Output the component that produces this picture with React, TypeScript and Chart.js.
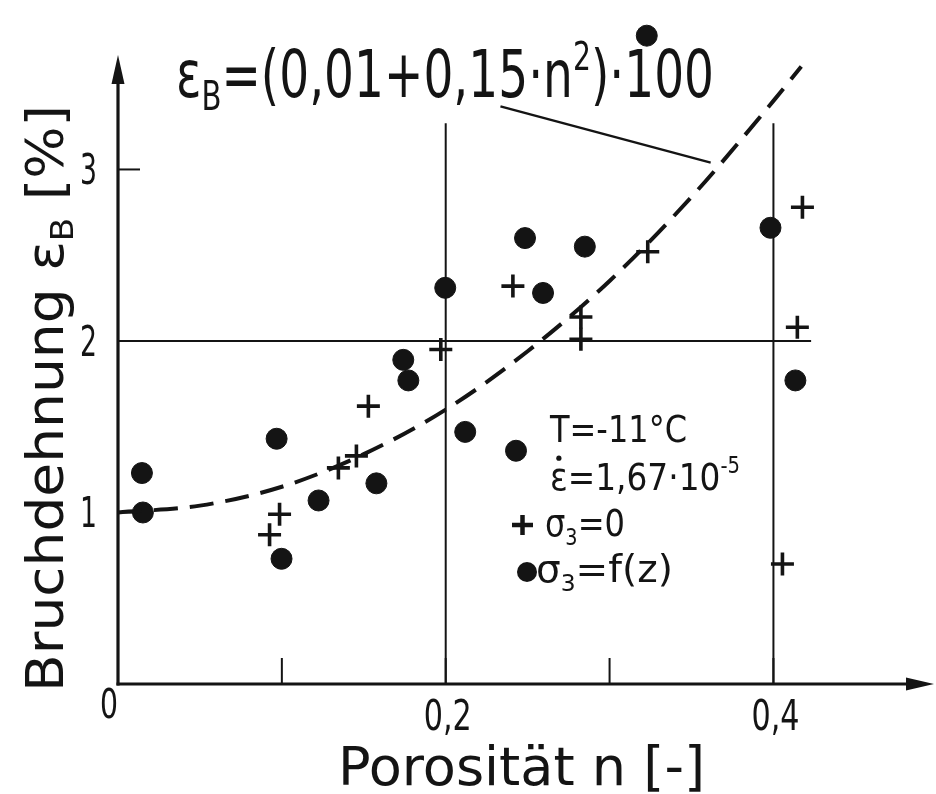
import React, { useEffect, useRef } from "react";
import { Chart, registerables } from "chart.js";

Chart.register(...registerables);

// ---------- data ----------
const crossN = [0.0925, 0.0986, 0.1345, 0.1455, 0.1528, 0.197, 0.241, 0.2825, 0.2825, 0.3233, 0.4055, 0.4146, 0.4177];
const crossE = [0.87, 0.99, 1.26, 1.33, 1.62, 1.95, 2.32, 2.14, 2.01, 2.52, 0.7, 2.08, 2.78];

const dotN = [0.0146, 0.0152, 0.0968, 0.0998, 0.1224, 0.1577, 0.1741, 0.1772, 0.1997, 0.2119, 0.2429, 0.2484, 0.2594, 0.2849, 0.3227, 0.3982, 0.4134];
const dotE = [1.23, 1.0, 1.43, 0.73, 1.07, 1.17, 1.89, 1.77, 2.31, 1.47, 1.36, 2.6, 2.28, 2.55, 3.78, 2.66, 1.77];

const curveN = [0, 0.05, 0.1, 0.15, 0.2, 0.25, 0.3, 0.35, 0.4, 0.417];
const curveE = [1.0, 1.04, 1.15, 1.34, 1.6, 1.94, 2.35, 2.84, 3.4, 3.6];

const xTickValues = [0.1, 0.2, 0.3, 0.4];
const xTickLabels = ["", "0,2", "", "0,4"];
const yTickValues = [1, 2, 3];
const yTickLabels = ["1", "2", "3"];
const originLabel = "0";

const fullGridX = [0.2, 0.4];
const fullGridY = [2];

// ---------- layout ----------
const W = 936;
const H = 794;
const ORIGIN_X = 118;
const ORIGIN_Y = 684;
const PX_PER_N = 1645;
const PX_PER_E = 174;
const X_MAX = 0.49;
const Y_MAX = 3.9;

const INK = "#141414";
const FONT = '"DejaVu Sans", "Liberation Sans", sans-serif';

type Run = { t: string; s?: number; dy?: number; dot?: boolean };

function drawRuns(
  ctx: CanvasRenderingContext2D,
  runs: Run[],
  x: number,
  y: number,
  size: number,
  targetW?: number,
  align: "left" | "center" | "right" = "left"
) {
  ctx.save();
  let total = 0;
  const widths = runs.map((r) => {
    ctx.font = `${size * (r.s ?? 1)}px ${FONT}`;
    const w = ctx.measureText(r.t).width;
    total += w;
    return w;
  });
  const sx = targetW ? targetW / total : 1;
  ctx.translate(x, y);
  ctx.scale(sx, 1);
  let cx = align === "center" ? -total / 2 : align === "right" ? -total : 0;
  ctx.textAlign = "left";
  ctx.textBaseline = "alphabetic";
  ctx.fillStyle = INK;
  runs.forEach((r, i) => {
    const fs = size * (r.s ?? 1);
    ctx.font = `${fs}px ${FONT}`;
    ctx.fillText(r.t, cx, (r.dy ?? 0) * size);
    if (r.dot) {
      ctx.beginPath();
      ctx.ellipse(cx + widths[i] / 2, -0.86 * size, 2.6 / sx, 2.6, 0, 0, Math.PI * 2);
      ctx.fill();
    }
    cx += widths[i];
  });
  ctx.restore();
}

const decorPlugin = {
  id: "decor",
  beforeDatasetsDraw(chart: any) {
    const ctx: CanvasRenderingContext2D = chart.ctx;
    const xs = chart.scales.x;
    const ys = chart.scales.y;
    const x0 = xs.getPixelForValue(0);
    const y0 = ys.getPixelForValue(0);
    ctx.save();
    ctx.strokeStyle = INK;
    ctx.fillStyle = INK;
    ctx.lineCap = "butt";

    // full grid lines
    ctx.lineWidth = 2;
    fullGridX.forEach((v) => {
      const px = xs.getPixelForValue(v);
      ctx.beginPath();
      ctx.moveTo(px, y0);
      ctx.lineTo(px, ys.getPixelForValue(3.27));
      ctx.stroke();
    });
    fullGridY.forEach((v) => {
      const py = ys.getPixelForValue(v);
      ctx.beginPath();
      ctx.moveTo(x0, py);
      ctx.lineTo(xs.getPixelForValue(0.423), py);
      ctx.stroke();
    });

    // short ticks
    xTickValues.forEach((v) => {
      const px = xs.getPixelForValue(v);
      ctx.beginPath();
      ctx.moveTo(px, y0);
      ctx.lineTo(px, y0 - 26);
      ctx.stroke();
    });
    yTickValues.forEach((v) => {
      const py = ys.getPixelForValue(v);
      ctx.beginPath();
      ctx.moveTo(x0, py);
      ctx.lineTo(x0 + 22, py);
      ctx.stroke();
    });

    // axes
    ctx.lineWidth = 3.2;
    ctx.beginPath();
    ctx.moveTo(x0 - 1.5, y0);
    ctx.lineTo(912, y0);
    ctx.stroke();
    ctx.beginPath();
    ctx.moveTo(x0, y0 + 1.5);
    ctx.lineTo(x0, 78);
    ctx.stroke();

    // arrow heads
    ctx.beginPath();
    ctx.moveTo(934, y0);
    ctx.lineTo(906, y0 - 6.5);
    ctx.lineTo(906, y0 + 6.5);
    ctx.closePath();
    ctx.fill();
    ctx.beginPath();
    ctx.moveTo(x0, 55);
    ctx.lineTo(x0 - 6.5, 84);
    ctx.lineTo(x0 + 6.5, 84);
    ctx.closePath();
    ctx.fill();

    // leader line from formula to curve
    ctx.lineWidth = 2.4;
    ctx.beginPath();
    ctx.moveTo(xs.getPixelForValue(0.2334), ys.getPixelForValue(3.368));
    ctx.lineTo(xs.getPixelForValue(0.3617), ys.getPixelForValue(3.04));
    ctx.stroke();

    ctx.restore();
  },
  afterDraw(chart: any) {
    const ctx: CanvasRenderingContext2D = chart.ctx;
    const xs = chart.scales.x;
    const ys = chart.scales.y;
    ctx.save();

    // tick labels
    xTickValues.forEach((v, i) => {
      const lab = xTickLabels[i];
      if (!lab) return;
      drawRuns(ctx, [{ t: lab }], xs.getPixelForValue(v) + 2, 730, 42, 48, "center");
    });
    yTickValues.forEach((v, i) => {
      drawRuns(ctx, [{ t: yTickLabels[i] }], 97, ys.getPixelForValue(v) + 15, 42, 17, "right");
    });
    drawRuns(ctx, [{ t: originLabel }], 100, 718, 40, 18);

    // axis titles
    drawRuns(ctx, [{ t: "Porosität n [-]" }], 338, 785, 53, 367);
    ctx.save();
    ctx.translate(63, 692);
    ctx.rotate(-Math.PI / 2);
    drawRuns(
      ctx,
      [{ t: "Bruchdehnung ε" }, { t: "B", s: 0.62, dy: 0.2 }, { t: " [%]" }],
      0,
      0,
      52,
      587
    );
    ctx.restore();

    // formula
    drawRuns(
      ctx,
      [
        { t: "ε" },
        { t: "B", s: 0.62, dy: 0.2 },
        { t: "=(0,01+0,15·n" },
        { t: "2", s: 0.6, dy: -0.42 },
        { t: ")·100" },
      ],
      176,
      97,
      65,
      538
    );

    // legend / conditions
    drawRuns(ctx, [{ t: "T=-11°C" }], 550, 442, 37, 137);
    drawRuns(ctx, [{ t: "ε", dot: true }, { t: "=1,67·10" }, { t: "-5", s: 0.6, dy: -0.45 }], 550, 490, 37, 190);

    ctx.strokeStyle = INK;
    ctx.fillStyle = INK;
    ctx.lineWidth = 4.5;
    ctx.beginPath();
    ctx.moveTo(512, 525);
    ctx.lineTo(533, 525);
    ctx.moveTo(522.5, 515);
    ctx.lineTo(522.5, 535);
    ctx.stroke();
    drawRuns(ctx, [{ t: "σ" }, { t: "3", s: 0.6, dy: 0.25 }, { t: "=0" }], 545, 536, 37, 80);

    ctx.beginPath();
    ctx.arc(527, 572, 10, 0, Math.PI * 2);
    ctx.fill();
    drawRuns(ctx, [{ t: "σ" }, { t: "3", s: 0.6, dy: 0.25 }, { t: "=f(z)" }], 536, 582, 37, 137);

    ctx.restore();
  },
};

export default function App() {
  const ref = useRef<HTMLCanvasElement | null>(null);

  useEffect(() => {
    document.body.style.margin = "0";
    document.body.style.background = "#ffffff";
    const canvas = ref.current;
    if (!canvas) return;

    const right = ORIGIN_X + X_MAX * PX_PER_N;
    const top = ORIGIN_Y - Y_MAX * PX_PER_E;

    const chart = new Chart(canvas, {
      type: "scatter",
      data: {
        datasets: [
          {
            type: "line",
            label: "curve",
            data: curveN.map((n, i) => ({ x: n, y: curveE[i] })),
            borderColor: INK,
            borderWidth: 4,
            borderDash: [24, 12],
            pointRadius: 0,
            fill: false,
            cubicInterpolationMode: "monotone",
            clip: false,
          } as any,
          {
            label: "σ3=0",
            data: crossN.map((n, i) => ({ x: n, y: crossE[i] })),
            pointStyle: "cross",
            pointRadius: 11.5,
            borderWidth: 3.6,
            borderColor: INK,
            backgroundColor: INK,
            clip: false,
          } as any,
          {
            label: "σ3=f(z)",
            data: dotN.map((n, i) => ({ x: n, y: dotE[i] })),
            pointStyle: "circle",
            pointRadius: 10.5,
            borderWidth: 1,
            borderColor: INK,
            backgroundColor: INK,
            clip: false,
          } as any,
        ],
      },
      options: {
        animation: false,
        responsive: false,
        maintainAspectRatio: false,
        devicePixelRatio: 1,
        layout: {
          padding: {
            left: ORIGIN_X,
            right: W - right,
            top: top,
            bottom: H - ORIGIN_Y,
          },
        },
        scales: {
          x: { type: "linear", min: 0, max: X_MAX, display: false },
          y: { type: "linear", min: 0, max: Y_MAX, display: false },
        },
        plugins: {
          legend: { display: false },
          tooltip: { enabled: false },
        },
        events: [],
      },
      plugins: [decorPlugin],
    });

    return () => chart.destroy();
  }, []);

  return (
    <canvas
      ref={ref}
      width={W}
      height={H}
      style={{ display: "block", width: W, height: H, background: "#fff" }}
    />
  );
}
